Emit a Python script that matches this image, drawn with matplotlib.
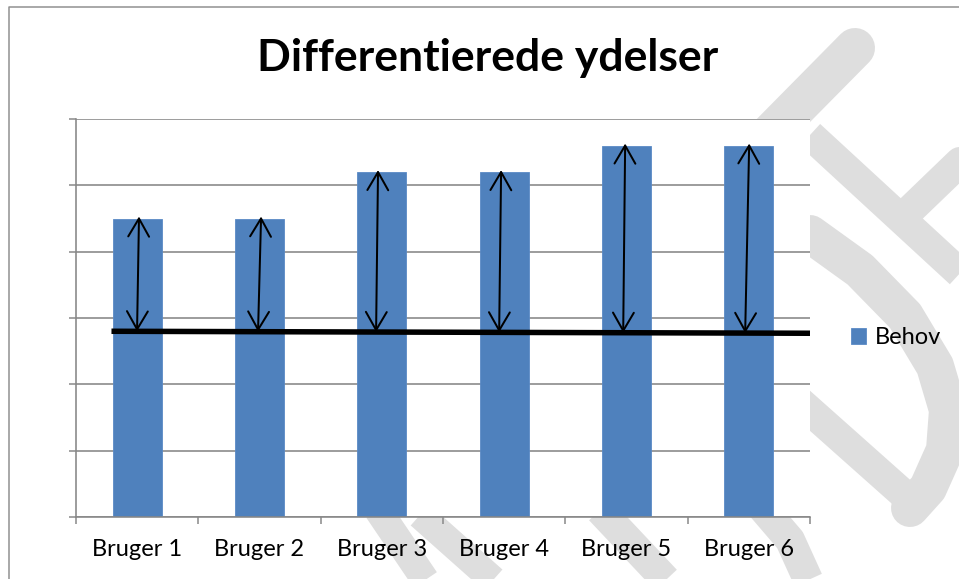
import numpy as np
import matplotlib
matplotlib.use("Agg")
import matplotlib.pyplot as plt

# ---- data ----
categories = ["Bruger 1", "Bruger 2", "Bruger 3", "Bruger 4", "Bruger 5", "Bruger 6"]
behov = [4.5, 4.5, 5.2, 5.2, 5.6, 5.6]
line_start = 2.80   # black baseline level at left end
line_end = 2.77     # black baseline level at right end
title = "Differentierede ydelser"
legend_label = "Behov"

# ---- style ----
BLUE = "#4F81BD"
GRID = "#878787"
WM = "#DEDEDE"
FONT = ["Lato", "DejaVu Sans"]
plt.rcParams["font.family"] = FONT

W, H = 959, 579
fig = plt.figure(figsize=(W / 100, H / 100), dpi=100)

def px(v):
    return v * 72 / 100

# background layer (chart area + watermark)
bg = fig.add_axes([0, 0, 1, 1], zorder=0)
bg.set_xlim(0, W)
bg.set_ylim(H, 0)
bg.axis("off")

strokes = [
    ([(855, 48), (700, 205)], 40, "round"),
    ([(810, 135), (975, 287)], 30, "butt"),
    ([(962, 160), (908, 212)], 30, "round"),
    ([(810, 234), (860, 270), (905, 316), (935, 366), (948, 410), (945, 450), (928, 488), (910, 508)], 38, "round"),
    ([(790, 393), (908, 498)], 30, "round"),
    ([(378, 510), (432, 590)], 28, "butt"),
    ([(420, 515), (510, 595)], 28, "butt"),
    ([(600, 510), (680, 595)], 30, "butt"),
    ([(760, 505), (790, 540), (815, 595)], 30, "butt"),
]
for pts, w, cap in strokes:
    xs, ys = zip(*pts)
    bg.plot(xs, ys, color=WM, lw=px(w), solid_capstyle=cap, solid_joinstyle="round", zorder=1)

# chart area border (top and left visible)
bg.plot([9, 9, W + 5], [H + 5, 7, 7], color="#8E8E8E", lw=px(1.5), zorder=2)

# ---- main plot ----
left, right, top, bottom = 76, 810, 119, 517
ax = fig.add_axes([left / W, 1 - bottom / H, (right - left) / W, (bottom - top) / H], zorder=1)
ax.set_facecolor("white")

x = np.arange(len(categories))
bw = 0.4
bars = ax.bar(x, behov, width=bw, color=BLUE, edgecolor="#5A8AC6", linewidth=0.6, zorder=2, label=legend_label)

ax.set_xlim(-0.5, len(categories) - 0.5)
ax.set_ylim(0, 6)
ax.set_yticks(np.arange(0, 7, 1))
ax.set_yticklabels([])
ax.grid(axis="y", color=GRID, lw=px(1.6), zorder=0.5)
ax.set_axisbelow(True)

ax.set_xticks(x)
ax.set_xticklabels(categories, fontsize=17)
ax.set_xticks(np.arange(-0.5, len(categories), 1), minor=True)
ax.tick_params(axis="x", which="major", length=0, pad=15.5)
ax.tick_params(axis="x", which="minor", length=px(7), width=px(1.5), color=GRID, direction="out")
ax.tick_params(axis="y", which="major", length=px(7), width=px(1.5), color=GRID, direction="out")

for s in ("top", "right"):
    ax.spines[s].set_visible(False)
for s in ("left", "bottom"):
    ax.spines[s].set_color(GRID)
    ax.spines[s].set_linewidth(px(1.6))

# black baseline
lx = [x[0] - bw / 2 - 0.01, len(categories) - 0.5]
ly = [line_start, line_end]
ax.plot(lx, ly, color="black", lw=px(5.5), solid_capstyle="butt", zorder=3, clip_on=False)

# double arrows between baseline and bar tops (slightly tilted as hand-drawn)
dx_top = [0.015, 0.013, -0.031, -0.025, -0.011, 0.003]
dx_bot = [-0.001, -0.012, -0.047, -0.041, -0.027, -0.030]
for i, v in enumerate(behov):
    xt = x[i] + dx_top[i]
    xb = x[i] + dx_bot[i]
    yb = np.interp(xb, lx, ly)
    ax.annotate("", xy=(xt, v + 0.03), xytext=(xb, yb),
                arrowprops=dict(arrowstyle="<->,head_length=1.3,head_width=0.75",
                                color="black", lw=px(2), shrinkA=0, shrinkB=0),
                zorder=4)

# title
fig.text(488 / W, 1 - 58 / H, title, ha="center", va="center", fontsize=32, fontweight="bold", color="black")

# legend
ax.legend([bars], [legend_label], loc="center left",
          bbox_to_anchor=(851 / W, 1 - 338 / H), bbox_transform=fig.transFigure,
          frameon=False, fontsize=17, handlelength=0.65, handleheight=0.65,
          handletextpad=0.35, borderpad=0, borderaxespad=0)

fig.savefig("out.png", dpi=100)
